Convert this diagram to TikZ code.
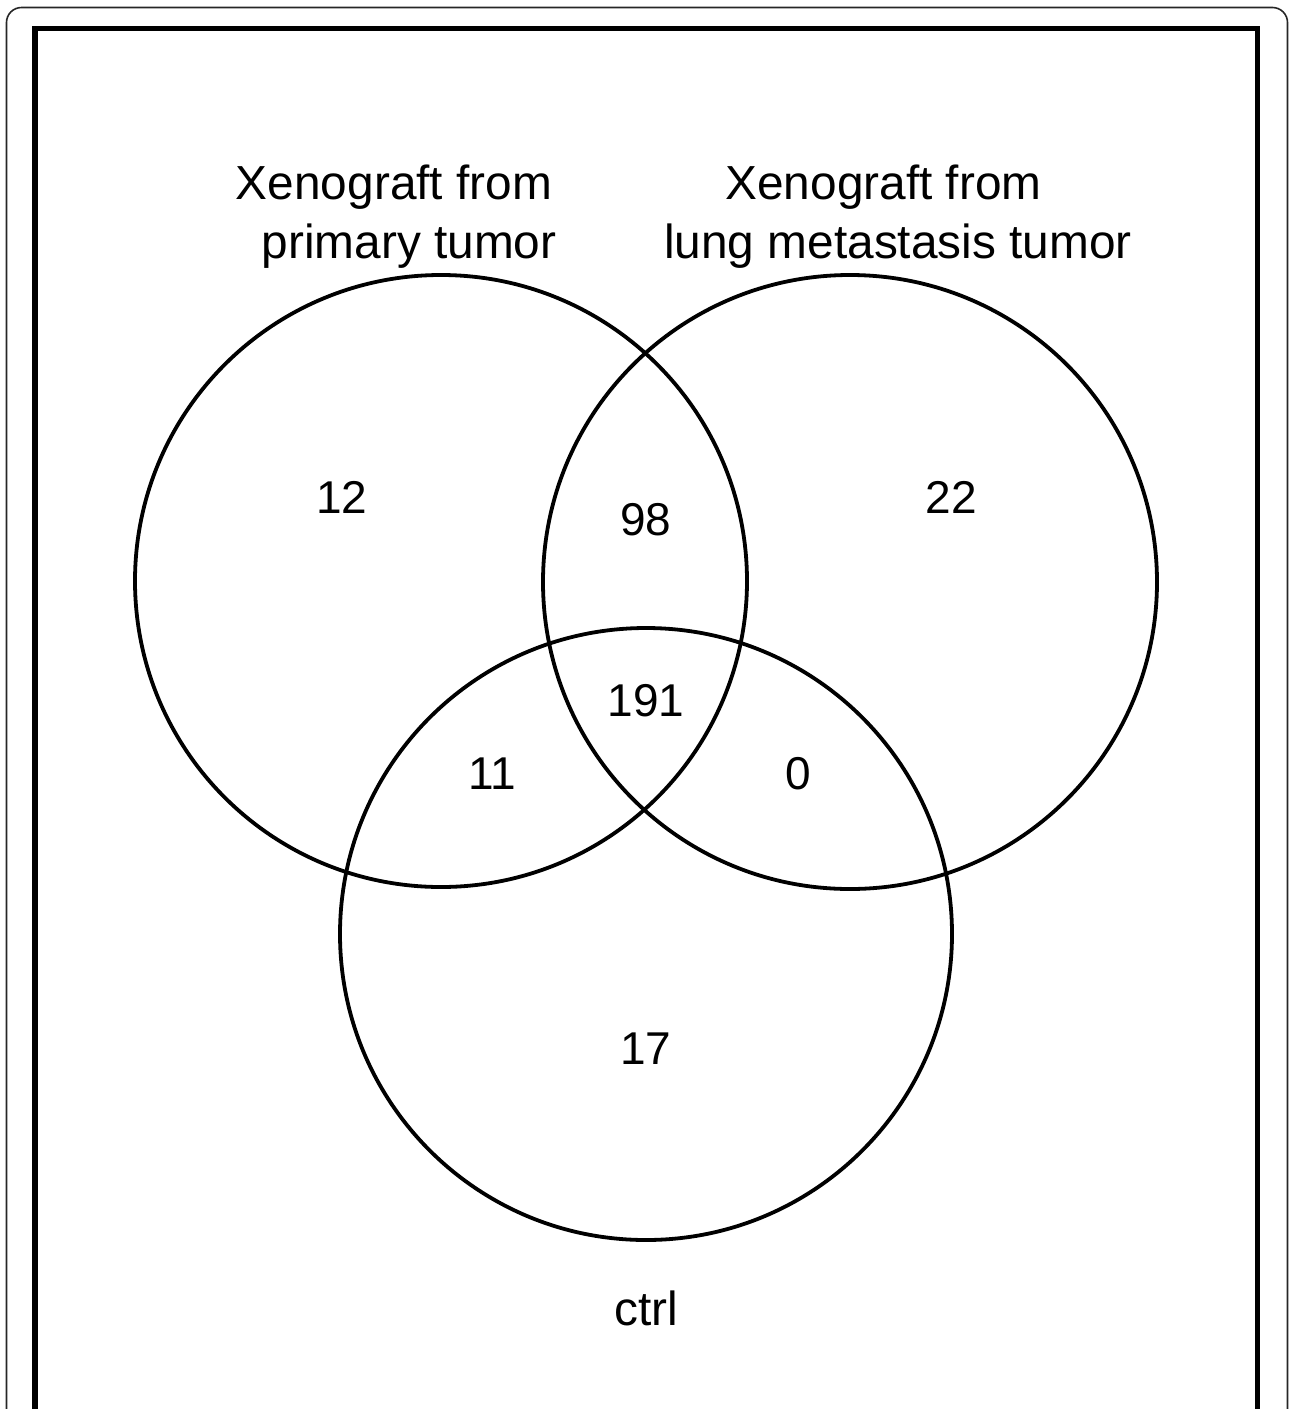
\documentclass[tikz,border=0pt]{standalone}
\usepackage{fontspec}
\setmainfont{Liberation Sans}
\begin{document}
\begin{tikzpicture}[x=1pt,y=-1pt,
  vennset/.style={draw=black,line width=3.8pt},
  lbl/.style={font=\fontsize{47.8}{52}\selectfont,anchor=base,inner sep=0pt},
  num/.style={font=\fontsize{46}{50}\selectfont,anchor=base,inner sep=0pt}]
\useasboundingbox (0,0) rectangle (1289,1409);
\clip (0,0) rectangle (1289,1409);
\fill[white] (0,0) rectangle (1289,1409);
% frames
\draw[line width=1.6pt,draw=black!85,rounded corners=15pt] (6.5,7.5) rectangle (1287.5,1460);
\draw[line width=5.5pt] (35,28.5) rectangle (1257.5,1460);
% circles
\node[vennset,circle,minimum size=612pt,inner sep=0pt] (A) at (441,581) {};
\node[vennset,circle,minimum size=614pt,inner sep=0pt] (B) at (850,582) {};
\node[vennset,circle,minimum size=612pt,inner sep=0pt] (C) at (646,934) {};
% set labels
\node[lbl] (la1) at (394,199) {Xenograft from};
\node[lbl] (la2) at (409,258) {primary tumor};
\node[lbl] (lb1) at (883.5,199) {Xenograft from};
\node[lbl] (lb2) at (898,258) {lung metastasis tumor};
\node[lbl] (lc) at (646,1325) {ctrl};
% counts
\node[num] (n12) at (342,513) {12};
\node[num] (n98) at (646,535) {98};
\node[num] (n22) at (951,513) {22};
\node[num] (n191) at (646,716) {191};
\node[num] (n11) at (492,789) {11};
\node[num] (n0) at (798,789) {0};
\node[num] (n17) at (646,1064) {17};
\end{tikzpicture}
\end{document}
